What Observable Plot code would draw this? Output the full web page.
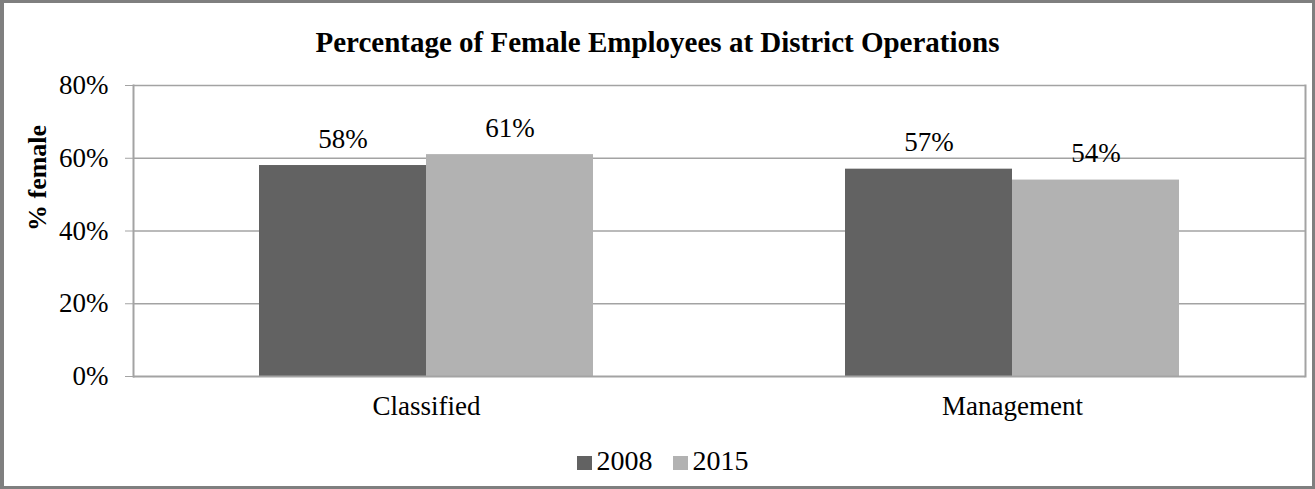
<!DOCTYPE html>
<html><head><meta charset="utf-8">
<script src="https://cdn.jsdelivr.net/npm/d3@7"></script>
<script src="https://cdn.jsdelivr.net/npm/@observablehq/plot@0.6"></script>
<style>
body{margin:0;background:#fff;}
#wrap{position:relative;width:1315px;height:489px;overflow:hidden;font-family:"Liberation Serif","Times New Roman",serif;color:#000;}
#border{position:absolute;left:0;top:0;width:1315px;height:489px;box-sizing:border-box;border:3px solid #7f7f7f;border-left-width:4px;pointer-events:none;}
#title{position:absolute;left:0;width:1315px;top:25px;text-align:center;font-weight:bold;font-size:29px;line-height:34px;}
#chart{position:absolute;left:0;top:60px;}
#legend{position:absolute;left:5px;width:1315px;top:444px;text-align:center;font-size:28px;line-height:34px;}
#legend .item{display:inline-block;margin:0 10px;}
#legend .sw{display:inline-block;width:15px;height:14px;margin-right:5px;vertical-align:0px;}
</style></head>
<body>
<div id="wrap">
  <div id="title">Percentage of Female Employees at District Operations</div>
  <div id="chart"></div>
  <div id="legend"></div>
  <div id="border"></div>
</div>
<script>
const categories = ["Classified", "Management"];
const years = ["2008", "2015"];
const values2008 = [0.58, 0.57];
const values2015 = [0.61, 0.54];
const yTicks = [0, 0.2, 0.4, 0.6, 0.8];
const colors = ["#626262", "#b2b2b2"];
const yLabel = "% female";

const series = {"2008": values2008, "2015": values2015};
const data = categories.flatMap((c, i) => years.map(y => ({category: c, year: y, value: series[y][i]})));
const pct = d3.format(".0%");
const gridColor = "#a3a3a3";

const plot = Plot.plot({
  width: 1315,
  height: 370,
  marginTop: 25,
  marginBottom: 54,
  marginLeft: 133,
  marginRight: 10,
  style: {fontFamily: "'Liberation Serif', 'Times New Roman', serif", fontSize: "27px", color: "#000", background: "transparent", overflow: "visible"},
  fx: {domain: categories, padding: 0, label: null},
  x: {domain: years, paddingOuter: 0.75, paddingInner: 0, axis: null},
  y: {domain: [0, 0.8], axis: null},
  color: {domain: years, range: colors},
  marks: [
    Plot.ruleY(yTicks.slice(1), {stroke: gridColor, strokeWidth: 1.5}),
    Plot.barY(data, {fx: "category", x: "year", y: "value", fill: "year"}),
    Plot.ruleY([0], {stroke: gridColor, strokeWidth: 2}),
    Plot.frame({anchor: "left", stroke: gridColor, strokeWidth: 2, facetAnchor: "left"}),
    Plot.frame({anchor: "right", stroke: gridColor, strokeWidth: 2, facetAnchor: "right"}),
    Plot.text(data, {fx: "category", x: "year", y: "value", text: d => pct(d.value), lineAnchor: "bottom", dy: -18, fill: "#000"}),
    Plot.axisY({ticks: yTicks, tickFormat: pct, tickSize: 8, tickPadding: 17, stroke: gridColor, label: null}),
    Plot.text([yLabel], {frameAnchor: "left", rotate: -90, dx: -96, fontWeight: "bold", fontSize: 26, lineAnchor: "middle", facetAnchor: "left", fill: "#000"}),
    Plot.axisFx({anchor: "bottom", tickSize: 0, tickPadding: 19, label: null})
  ]
});
document.getElementById("chart").appendChild(plot);

const legend = document.getElementById("legend");
years.forEach((y, i) => {
  const item = document.createElement("span");
  item.className = "item";
  const sw = document.createElement("span");
  sw.className = "sw";
  sw.style.background = colors[i];
  item.appendChild(sw);
  item.appendChild(document.createTextNode(y));
  legend.appendChild(item);
});
</script>
</body></html>
